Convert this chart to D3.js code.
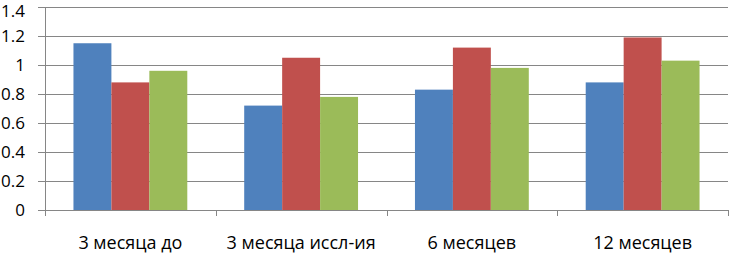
<!DOCTYPE html>
<html>
<head>
<meta charset="utf-8">
<script src="https://cdn.jsdelivr.net/npm/d3@7"></script>
<style>
  body { margin: 0; background: #fff; }
  text { font-family: "Open Sans", "Noto Sans", sans-serif; fill: #000; }
</style>
</head>
<body>
<script>
// categories and series values
const categories = ["3 месяца до", "3 месяца иссл-ия", "6 месяцев", "12 месяцев"];
const series1 = [1.15, 0.72, 0.83, 0.88];
const series2 = [0.88, 1.05, 1.12, 1.19];
const series3 = [0.96, 0.78, 0.98, 1.03];
const yTicks = [0, 0.2, 0.4, 0.6, 0.8, 1, 1.2, 1.4];

const colors = ["#4F81BD", "#C0504D", "#9BBB59"];
const seriesList = [series1, series2, series3];

let width = 729;
let height = 253;
let m = { left: 45, right: 728, top: 7, bottom: 210 };

let svg = d3.select("body").append("svg")
  .attr("width", width)
  .attr("height", height);

let x = d3.scaleBand()
  .domain(categories)
  .range([m.left, m.right]);

let y = d3.scaleLinear()
  .domain([0, 1.4])
  .range([m.bottom, m.top]);

// bars within a group: gap width 150% like excel
let barW = x.bandwidth() / 4.5;
let inner = d3.scaleBand()
  .domain(d3.range(seriesList.length))
  .range([barW * 0.75, x.bandwidth() - barW * 0.75]);

// gridlines + y tick marks
svg.append("g")
  .selectAll("line")
  .data(yTicks)
  .join("line")
    .attr("x1", m.left - 7)
    .attr("x2", m.right)
    .attr("y1", d => Math.round(y(d)) + 0.5)
    .attr("y2", d => Math.round(y(d)) + 0.5)
    .attr("stroke", "#868686")
    .attr("stroke-width", 1);

// y labels (keep the top one inside the page)
svg.append("g")
  .selectAll("text")
  .data(yTicks)
  .join("text")
    .attr("x", 25)
    .attr("y", d => Math.max(y(d), 11))
    .attr("dy", "0.35em")
    .attr("text-anchor", "end")
    .style("font-size", "17px")
    .text(d => d);

// bars
seriesList.forEach((vals, i) => {
  svg.append("g")
    .selectAll("rect")
    .data(vals)
    .join("rect")
      .attr("x", (d, j) => x(categories[j]) + inner(i))
      .attr("width", inner.bandwidth())
      .attr("y", d => y(d))
      .attr("height", d => y(0) - y(d))
      .attr("fill", colors[i]);
});

// axes lines
svg.append("line")
  .attr("x1", m.left + 0.5).attr("x2", m.left + 0.5)
  .attr("y1", m.top).attr("y2", m.bottom + 5)
  .attr("stroke", "#868686");

svg.append("g")
  .selectAll("line")
  .data(categories.concat(["end"]))
  .join("line")
    .attr("x1", (d, i) => Math.round(m.left + i * x.step()) + 0.5)
    .attr("x2", (d, i) => Math.round(m.left + i * x.step()) + 0.5)
    .attr("y1", m.bottom)
    .attr("y2", m.bottom + 6)
    .attr("stroke", "#868686");

// x labels
svg.append("g")
  .selectAll("text")
  .data(categories)
  .join("text")
    .attr("x", d => x(d) + x.bandwidth() / 2)
    .attr("y", 249)
    .attr("text-anchor", "middle")
    .style("font-size", "18px")
    .text(d => d);
</script>
</body>
</html>
